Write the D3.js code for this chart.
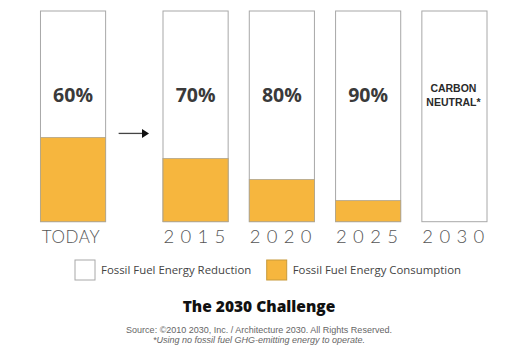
<!DOCTYPE html>
<html><head><meta charset="utf-8">
<script src="https://cdn.jsdelivr.net/npm/d3@7"></script>
<style>body{margin:0;background:#fff}svg{display:block}</style>
</head><body>
<svg id="c" width="528" height="358"></svg>
<script>
const categories = ["TODAY", "2015", "2020", "2025", "2030"];
const consumption = [40, 30, 20, 10, 0];   // Fossil Fuel Energy Consumption (% of total)
const reductionLabels = ["60%", "70%", "80%", "90%", "CARBON|NEUTRAL*"];
const legendLabels = ["Fossil Fuel Energy Reduction", "Fossil Fuel Energy Consumption"];
const title = "The 2030 Challenge";
const sourceLines = ["Source: \u00a92010 2030, Inc. / Architecture 2030. All Rights Reserved.", "*Using no fossil fuel GHG-emitting energy to operate."];

const ORANGE = "#F6B63E", BORDER = "#a8a8a8";
const svg = d3.select("#c");

// x: band scale for years, TODAY offset further left (arrow gap)
const years = categories.slice(1);
const xb = d3.scaleBand().domain(years).range([163, 487]).paddingInner(0.245).paddingOuter(0);
const step = xb.step();
const xPos = c => c === "TODAY" ? xb("2015") - step * 1.42 : xb(c);
const bw = xb.bandwidth();
const y = d3.scaleLinear().domain([0, 100]).range([221.7, 11]);

const data = categories.map((c, i) => ({c, v: consumption[i], lab: reductionLabels[i]}));
const g = svg.append("g");

// outer boxes
g.selectAll("rect.box").data(data).join("rect").attr("class", "box")
  .attr("x", d => xPos(d.c)).attr("y", y(100)).attr("width", bw).attr("height", y(0) - y(100))
  .attr("fill", "#fff").attr("stroke", BORDER).attr("stroke-width", 1);
// consumption fill
g.selectAll("rect.fill").data(data.filter(d => d.v > 0)).join("rect").attr("class", "fill")
  .attr("x", d => xPos(d.c)).attr("y", d => y(d.v)).attr("width", bw).attr("height", d => y(0) - y(d.v))
  .attr("fill", ORANGE).attr("stroke", "#c9a24f").attr("stroke-width", 0.6);
g.selectAll("rect.fb").data(data.filter(d => d.v > 0)).join("rect").attr("class", "fb")
  .attr("x", d => xPos(d.c)).attr("y", d => y(d.v)).attr("width", bw).attr("height", d => y(0) - y(d.v))
  .attr("fill", "none").attr("stroke", BORDER).attr("stroke-width", 0.8).attr("stroke-opacity", 0.7);

// percent labels
data.forEach(d => {
  const parts = d.lab.split("|");
  const cx = xPos(d.c) + bw / 2;
  if (parts.length === 1) {
    g.append("text").attr("x", cx).attr("y", 95).attr("dy", "0.35em")
      .attr("text-anchor", "middle").attr("font-family", "'Open Sans', sans-serif")
      .attr("font-weight", 700).attr("font-size", 19.5).attr("fill", "#3a3a3a").text(parts[0]);
  } else {
    parts.forEach((p, k) => {
      g.append("text").attr("x", cx - 1).attr("y", 88 + k * 14).attr("dy", "0.35em")
        .attr("text-anchor", "middle").attr("font-family", "'Liberation Sans', Arial, sans-serif")
        .attr("font-weight", 700).attr("font-size", 10.5).attr("fill", "#2a2a2a").text(p);
    });
  }
});

// category labels
g.selectAll("text.cat").data(data).join("text").attr("class", "cat")
  .attr("x", d => xPos(d.c) + bw / 2 + (d.c === "TODAY" ? -2 : 2)).attr("y", 237).attr("dy", "0.35em")
  .attr("text-anchor", "middle").attr("font-family", "Lato, sans-serif").attr("font-weight", 300)
  .attr("font-size", d => d.c === "TODAY" ? 17 : 18.5)
  .attr("letter-spacing", d => d.c === "TODAY" ? 0.6 : 6.3)
  .attr("fill", "#555").text(d => d.c);

// arrow
const ax0 = xPos("TODAY") + bw + 13, ax1 = xb("2015") - 14;
const ay = y(consumption[0]) - 4;
svg.append("line").attr("x1", ax0).attr("x2", ax1 - 5).attr("y1", ay).attr("y2", ay)
  .attr("stroke", "#444").attr("stroke-width", 1.3);
svg.append("path").attr("d", `M${ax1 - 7},${ay - 4.5}L${ax1},${ay}L${ax1 - 7},${ay + 4.5}Z`).attr("fill", "#111");

// legend
const leg = svg.append("g");
const legX = [75, 266.7];
const legFill = ["#fff", ORANGE];
legendLabels.forEach((t, i) => {
  leg.append("rect").attr("x", legX[i]).attr("y", 260).attr("width", 20).attr("height", 20)
    .attr("fill", legFill[i]).attr("stroke", i ? "#c89a3a" : BORDER).attr("stroke-width", 1);
  leg.append("text").attr("x", legX[i] + 26).attr("y", 270).attr("dy", "0.35em")
    .attr("font-family", "'Open Sans', sans-serif").attr("font-size", 11.4).attr("fill", "#444").text(t);
});

// title
svg.append("text").attr("x", 259).attr("y", 307).attr("dy", "0.35em").attr("text-anchor", "middle")
  .attr("font-family", "'Open Sans', sans-serif").attr("font-weight", 800).attr("font-size", 15.5)
  .attr("fill", "#111").text(title);
// source
sourceLines.forEach((s, i) => {
  svg.append("text").attr("x", 259).attr("y", 330 + i * 10).attr("dy", "0.35em").attr("text-anchor", "middle")
    .attr("font-family", "'Liberation Sans', Arial, sans-serif").attr("font-size", 9)
    .attr("font-style", i ? "italic" : "normal").attr("fill", "#666").text(s);
});
</script>
</body></html>
